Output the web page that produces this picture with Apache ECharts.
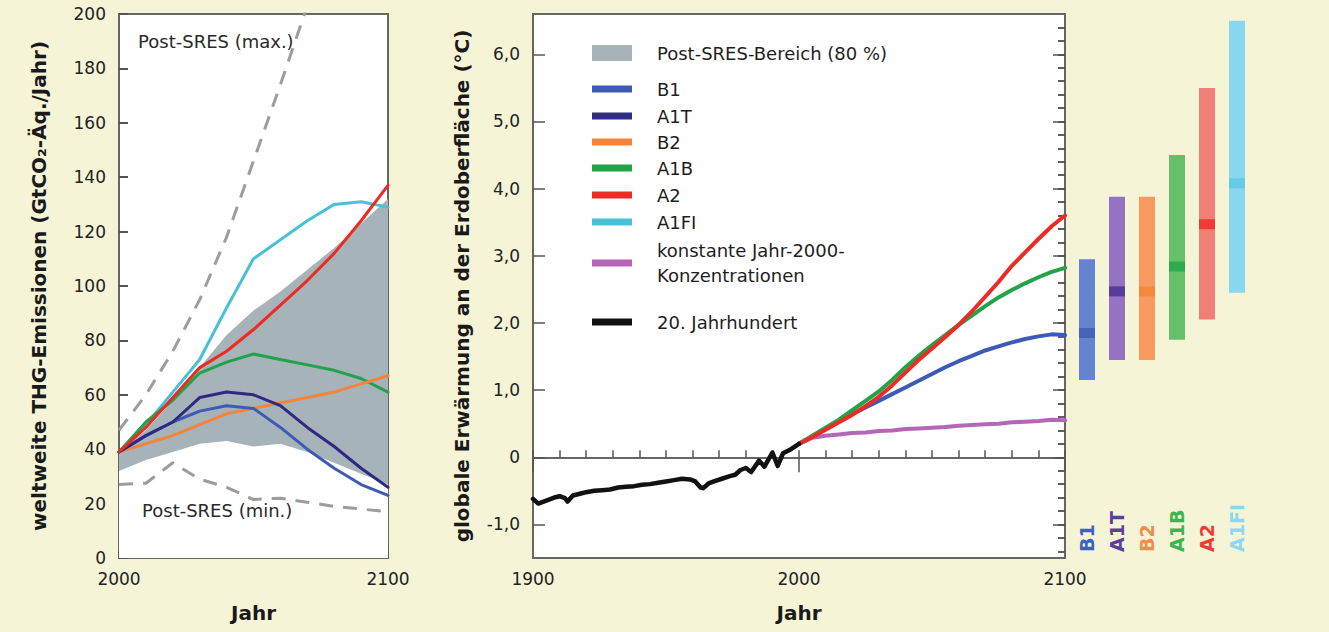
<!DOCTYPE html>
<html><head><meta charset="utf-8">
<script src="https://cdn.jsdelivr.net/npm/echarts@6/dist/echarts.min.js"></script>
<style>html,body{margin:0;padding:0;background:#f5f4d7;}#c{width:1329px;height:632px;}</style>
</head><body><div id="c"></div>
<script>
// ---------- Left panel: global GHG emissions (GtCO2-eq / year) ----------
const emYears  = [2000,2010,2020,2030,2040,2050,2060,2070,2080,2090,2100];
const emB1     = [39,45,50,54,56,55,48,40,33,27,23];
const emA1T    = [39,45,50,59,61,60,56,48,41,33,26];
const emB2     = [39,42,45,49,53,55,57,59,61,64,67];
const emA1B    = [39,50,58,68,72,75,73,71,69,66,61];
const emA2     = [39,48,59,70,76,84,93,102,112,124,137];
const emA1FI   = [39,49,61,73,92,110,117,124,130,131,129];
const bandLow  = [32,36,39,42,43,41,42,39,35,31,27];
const bandHigh = [39,47,58,70,82,91,98,106,114,123,132];
const postMaxYears = [2000,2010,2020,2030,2040,2050,2060,2070];
const postMax      = [47,60,76,95,118,146,174,203];
const postMinYears = [2000,2010,2020,2030,2040,2050,2060,2070,2080,2090,2100];
const postMin      = [27,27.5,35,29,26,21.5,22,20.5,19,18,17];
const emXLabels = [2000,2100];

// ---------- Right panel: global surface warming (°C) ----------
const histYears = [1900,1902,1904,1906,1908,1910,1912,1913,1915,1918,1920,1923,1926,1929,1932,1935,1938,1941,1944,1947,1950,1953,1956,1959,1961,1963,1964,1966,1968,1971,1974,1976,1978,1980,1982,1985,1987,1990,1992,1994,1997,2000];
const histTemp  = [-0.62,-0.69,-0.66,-0.63,-0.60,-0.58,-0.61,-0.66,-0.57,-0.54,-0.52,-0.50,-0.49,-0.48,-0.45,-0.44,-0.43,-0.41,-0.40,-0.38,-0.36,-0.34,-0.32,-0.33,-0.36,-0.45,-0.46,-0.39,-0.36,-0.32,-0.28,-0.26,-0.19,-0.16,-0.22,-0.05,-0.14,0.07,-0.13,0.06,0.12,0.20];
const projYears = [2000,2005,2010,2015,2020,2025,2030,2035,2040,2045,2050,2055,2060,2065,2070,2075,2080,2085,2090,2095,2100];
const tB1    = [0.20,0.31,0.42,0.53,0.64,0.74,0.84,0.94,1.04,1.14,1.24,1.34,1.43,1.51,1.59,1.65,1.71,1.76,1.80,1.83,1.82];
const tA1B   = [0.20,0.32,0.44,0.56,0.70,0.84,0.98,1.15,1.34,1.51,1.67,1.82,1.97,2.11,2.25,2.38,2.49,2.59,2.68,2.76,2.82];
const tA2    = [0.20,0.30,0.41,0.52,0.63,0.76,0.90,1.07,1.26,1.45,1.62,1.79,1.97,2.17,2.39,2.61,2.85,3.05,3.25,3.44,3.60];
const tConst = [0.20,0.29,0.32,0.34,0.36,0.37,0.39,0.40,0.42,0.43,0.44,0.45,0.47,0.48,0.49,0.50,0.52,0.53,0.54,0.56,0.55];
const tempXLabels = [1900,2000,2100];
const tempTicks = [-1,0,1,2,3,4,5,6];

// ---------- Likely ranges at 2100 (°C) ----------
const scenarios = ['B1','A1T','B2','A1B','A2','A1FI'];
const rangeLow  = [1.15,1.45,1.45,1.75,2.05,2.45];
const rangeHigh = [2.95,3.88,3.88,4.50,5.50,6.50];
const bestEst   = [1.85,2.47,2.47,2.84,3.47,4.08];

// ---------- styles ----------
const FONT = "'DejaVu Sans', sans-serif";
const AX = '#666666';
const C = {B1:'#3d5bb5', A1T:'#2e2a82', B2:'#f5843a', A1B:'#22a34a', A2:'#ec2b25', A1FI:'#48c1d8',
           konst:'#b566b8', hist:'#111111', band:'#a6b3b9', dash:'#9c9c9c'};
const barColors = ['#6483d0','#9474c2','#f89a60','#66c068','#f27f77','#8ad6ee'];
const medColors = ['#3d5cb0','#4b2d91','#f5852f','#21a548','#ec2a24','#5ec8e6'];
const lblColors = ['#3f61c2','#5b3f9c','#f58a4b','#3cb54c','#ee3c34','#8fd7f0'];

const zip = (xs, ys) => xs.map((x, i) => [x, ys[i]]);
const minorTicks = [];
for (let k = -7; k <= 32; k++) minorTicks.push(Math.round(k * 2) / 10);
const fmtDE = v => v === 0 ? '0' : v.toFixed(1).replace('.', ',');

function ln(name, xi, yi, xs, ys, color, width, z) {
  return {name, type:'line', xAxisIndex:xi, yAxisIndex:yi, data:zip(xs, ys), symbol:'none', showSymbol:false,
          lineStyle:{color, width, cap:'round', join:'round'}, itemStyle:{color}, z, emphasis:{disabled:true}};
}
const annot = (coord, text) => ({silent:true, symbol:'rect', symbolSize:1, itemStyle:{color:'rgba(0,0,0,0)'},
  data:[{coord, label:{show:true, position:'inside', formatter:text, fontSize:18, color:'#2a2a2a', fontFamily:FONT}}]});

const series = [
  // 80 % range band: grey area up to the upper bound, white area up to the lower bound on top of it
  {name:'Post-SRES-Bereich (80 %)', type:'line', xAxisIndex:0, yAxisIndex:0, data:zip(emYears, bandHigh), symbol:'none',
   lineStyle:{width:0, opacity:0}, areaStyle:{color:C.band, opacity:1, origin:'start'}, itemStyle:{color:C.band}, z:1, silent:true},
  {name:'bandMask', type:'line', xAxisIndex:0, yAxisIndex:0, data:zip(emYears, bandLow), symbol:'none',
   lineStyle:{width:0, opacity:0}, areaStyle:{color:'#ffffff', opacity:1, origin:'start'}, z:1, silent:true},
  {name:'Post-SRES (max.)', type:'line', xAxisIndex:0, yAxisIndex:0, data:zip(postMaxYears, postMax), symbol:'none',
   lineStyle:{color:C.dash, width:3, type:[14,10]}, z:2, markPoint:annot([2036,190], 'Post-SRES (max.)')},
  {name:'Post-SRES (min.)', type:'line', xAxisIndex:0, yAxisIndex:0, data:zip(postMinYears, postMin), symbol:'none',
   lineStyle:{color:C.dash, width:3, type:[14,10]}, z:2, markPoint:annot([2036.5,17.5], 'Post-SRES (min.)')},
  ln('A1FI', 0, 0, emYears, emA1FI, C.A1FI, 3, 3),
  ln('A1B', 0, 0, emYears, emA1B, C.A1B, 3, 3),
  ln('B2', 0, 0, emYears, emB2, C.B2, 3, 3),
  ln('B1', 0, 0, emYears, emB1, C.B1, 3, 3),
  ln('A1T', 0, 0, emYears, emA1T, C.A1T, 3, 3),
  ln('A2', 0, 0, emYears, emA2, C.A2, 3, 4),

  ln('konstante Jahr-2000-Konzentrationen', 1, 1, projYears, tConst, C.konst, 4, 3),
  ln('B1', 1, 1, projYears, tB1, C.B1, 4, 3),
  ln('A1B', 1, 1, projYears, tA1B, C.A1B, 4, 3),
  ln('A2', 1, 1, projYears, tA2, C.A2, 4, 4),
  ln('20. Jahrhundert', 1, 1, histYears, histTemp, C.hist, 4.5, 4),

  {type:'bar', xAxisIndex:3, yAxisIndex:5, stack:'rng', data:rangeLow, barWidth:16, silent:true,
   itemStyle:{color:'rgba(0,0,0,0)'}},
  {type:'bar', xAxisIndex:3, yAxisIndex:5, stack:'rng', barWidth:16, silent:true,
   data:rangeHigh.map((h, i) => ({value:h - rangeLow[i], itemStyle:{color:barColors[i]}}))},
  {type:'scatter', xAxisIndex:3, yAxisIndex:5, symbol:'rect', symbolSize:[16,10], silent:true,
   data:bestEst.map((v, i) => ({value:[i, v], itemStyle:{color:medColors[i]}})), z:5}
];

const legendRows = [
  ['Post-SRES-Bereich (80 %)', 53, 16], ['B1', 89, 7], ['A1T', 116, 7], ['B2', 142, 7], ['A1B', 168, 7],
  ['A2', 195, 7], ['A1FI', 222, 7], ['konstante Jahr-2000-Konzentrationen', 263, 7], ['20. Jahrhundert', 322, 7]
];
const legends = legendRows.map(([name, cy, h]) => {
  const two = name.startsWith('konstante');
  return {
    left:592, top: two ? cy - 32 : cy - 11, padding:0, itemGap:0, icon:'rect', itemWidth:40, itemHeight:h,
    data:[name], selectedMode:false,
    formatter: two ? () => 'konstante Jahr-2000-\nKonzentrationen' : undefined,
    textStyle:{fontSize:18, color:'#1e1e1e', fontFamily:FONT, lineHeight: two ? 25 : 22, padding: two ? [14,0,0,20] : [0,0,0,20]}
  };
});

const tickStyle = {color:'#555', width:1.5};
const titleStyle = {fontSize:20, fontWeight:'bold', color:'#1a1a1a', fontFamily:FONT};
const tickLabel = {fontSize:17, color:'#222', fontFamily:FONT};
const option = {
  animation:false,
  backgroundColor:'#f5f4d7',
  textStyle:{fontFamily:FONT},
  legend: legends,
  grid:[
    {left:119, width:269, top:14, height:544, show:true, backgroundColor:'#ffffff', borderColor:AX, borderWidth:2},
    {left:533, width:532, top:14, height:544, show:true, backgroundColor:'#ffffff', borderColor:AX, borderWidth:2},
    {left:1072, width:180, top:14, height:544}
  ],
  xAxis:[
    {gridIndex:0, type:'value', min:2000, max:2100, interval:10,
     name:'Jahr', nameLocation:'middle', nameGap:45, nameTextStyle:titleStyle,
     axisLine:{show:true, lineStyle:{color:AX, width:2}},
     axisTick:{show:true, inside:true, length:7, lineStyle:tickStyle},
     axisLabel:{...tickLabel, margin:12, formatter:v => emXLabels.includes(v) ? String(v) : ''},
     splitLine:{show:false}},
    {gridIndex:1, type:'value', min:1900, max:2100, interval:10,
     name:'Jahr', nameLocation:'middle', nameGap:45, nameTextStyle:titleStyle,
     axisLine:{show:true, lineStyle:{color:AX, width:2}},
     axisTick:{show:true, inside:true, length:7, lineStyle:tickStyle},
     axisLabel:{...tickLabel, margin:12, formatter:v => tempXLabels.includes(v) ? String(v) : ''},
     splitLine:{show:false}},
    {gridIndex:1, type:'value', min:1900, max:2100, interval:100,
     axisLine:{show:false}, axisTick:{show:true, inside:true, length:15, lineStyle:tickStyle},
     axisLabel:{show:false}, splitLine:{show:false}},
    {gridIndex:2, type:'category', data:scenarios,
     axisLine:{show:false}, axisTick:{show:false}, splitLine:{show:false},
     axisLabel:{inside:true, rotate:90, margin:6, fontSize:19, fontWeight:'bold', fontFamily:FONT,
                color:(v, i) => lblColors[i]}}
  ],
  yAxis:[
    {gridIndex:0, type:'value', min:0, max:200, interval:20,
     name:'weltweite THG-Emissionen (GtCO₂-Äq./Jahr)', nameLocation:'middle', nameGap:70, nameRotate:90,
     nameTextStyle:titleStyle,
     axisLine:{show:true, lineStyle:{color:AX, width:2}},
     axisTick:{show:true, inside:true, length:9, lineStyle:{color:'#555', width:2}},
     axisLabel:{...tickLabel, margin:13, padding:[0,0,8,0], formatter:v => String(v)},
     splitLine:{show:false}},
    {gridIndex:1, type:'value', min:-1.5, max:6.6,
     name:'globale Erwärmung an der Erdoberfläche (°C)', nameLocation:'middle', nameGap:61, nameRotate:90,
     nameTextStyle:titleStyle,
     axisLine:{show:true, lineStyle:{color:AX, width:2}},
     axisTick:{show:true, inside:true, length:12, customValues:tempTicks, lineStyle:tickStyle},
     axisLabel:{...tickLabel, margin:13, padding:[0,0,4,0], customValues:tempTicks, formatter:fmtDE},
     splitLine:{show:false}},
    {gridIndex:1, type:'value', min:-1.5, max:6.6, axisLine:{show:false},
     axisTick:{show:true, inside:true, length:7, customValues:minorTicks, lineStyle:tickStyle},
     axisLabel:{show:false}, splitLine:{show:false}},
    {gridIndex:1, type:'value', min:-1.5, max:6.6, position:'right', axisLine:{show:false},
     axisTick:{show:true, inside:true, length:12, customValues:tempTicks, lineStyle:tickStyle},
     axisLabel:{show:false}, splitLine:{show:false}},
    {gridIndex:1, type:'value', min:-1.5, max:6.6, position:'right', axisLine:{show:false},
     axisTick:{show:true, inside:true, length:7, customValues:minorTicks, lineStyle:tickStyle},
     axisLabel:{show:false}, splitLine:{show:false}},
    {gridIndex:2, type:'value', min:-1.5, max:6.6, show:false}
  ],
  series
};
const chart = echarts.init(document.getElementById('c'), null, {renderer:'svg', width:1329, height:632});
chart.setOption(option);
</script>
</body></html>
